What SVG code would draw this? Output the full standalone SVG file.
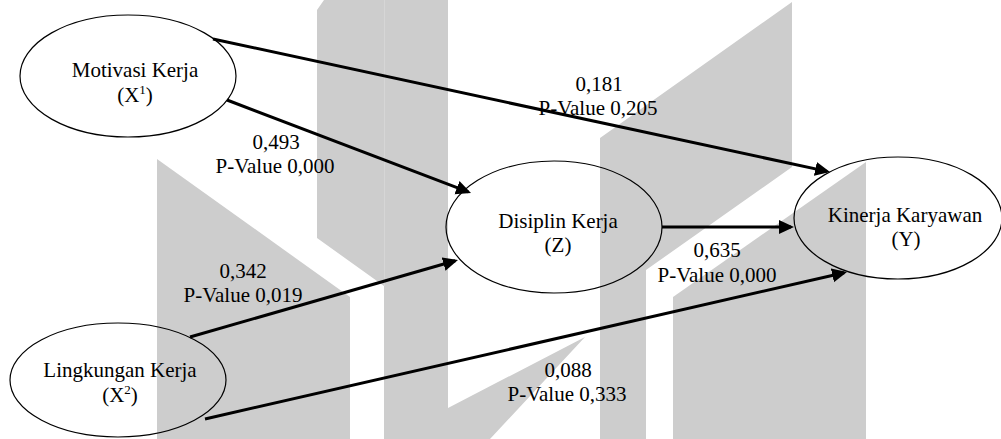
<svg xmlns="http://www.w3.org/2000/svg" width="1001" height="439" viewBox="0 0 1001 439">
<style>
.wm{fill:#cdcdcd;stroke:none}
.node ellipse{fill:none;stroke:#000;stroke-width:1.2}
.t{font-size:21px;fill:#000;text-anchor:middle}
.sup{font-size:13px}
.conn line{stroke:#000;stroke-width:3;fill:none}
</style>
<defs>
<marker id="ah" markerUnits="userSpaceOnUse" markerWidth="16" markerHeight="15" refX="12" refY="7" orient="auto">
<path d="M0,0 L15,7 L0,14 z" fill="#000"/>
</marker>
</defs>
<rect width="1001" height="439" fill="#fff"/>
<g id="watermark">
<polygon class="wm" points="157,159 350,297 350,439 157,439"/>
<polygon class="wm" points="317,10 324,0 448,0 448,408 585,337 490,439 384,439 384,286 317,238"/>
<line x1="384.5" y1="0" x2="384.5" y2="286" stroke="#d6d6d6" stroke-width="1"/>
<polygon class="wm" points="600,138 792,2 792,167 646,270 646,439 600,439"/>
<polygon class="wm" points="673,297 866,162 866,439 673,439"/>
</g>
<g id="connectors" class="conn">
<line x1="213" y1="39" x2="827.1" y2="171.4" marker-end="url(#ah)"/>
<line x1="227" y1="100" x2="468.2" y2="191.9" marker-end="url(#ah)"/>
<line x1="190" y1="337" x2="455.1" y2="260.8" marker-end="url(#ah)"/>
<line x1="205" y1="419" x2="844.1" y2="272.7" marker-end="url(#ah)"/>
<line x1="662" y1="227" x2="791" y2="227" marker-end="url(#ah)"/>
</g>
<g font-family="'Liberation Serif', 'DejaVu Serif', serif">
<g id="labels">
<text class="t" x="276" y="149">0,493</text>
<text class="t" x="275" y="173">P-Value 0,000</text>
<text class="t" x="599" y="91">0,181</text>
<text class="t" x="598" y="115">P-Value 0,205</text>
<text class="t" x="243" y="278">0,342</text>
<text class="t" x="243" y="302">P-Value 0,019</text>
<text class="t" x="717" y="257">0,635</text>
<text class="t" x="717" y="282">P-Value 0,000</text>
<text class="t" x="568" y="377">0,088</text>
<text class="t" x="567" y="401">P-Value 0,333</text>
</g>
<g id="node-x1" class="node">
<ellipse cx="128" cy="76" rx="108" ry="61"/>
<text class="t" x="135" y="77">Motivasi Kerja</text>
<text class="t" x="135" y="102">(X<tspan class="sup" dy="-8">1</tspan><tspan dy="8">)</tspan></text>
</g>
<g id="node-x2" class="node">
<ellipse cx="118" cy="380" rx="108" ry="57"/>
<text class="t" x="120" y="377">Lingkungan Kerja</text>
<text class="t" x="120" y="402">(X<tspan class="sup" dy="-8">2</tspan><tspan dy="8">)</tspan></text>
</g>
<g id="node-z" class="node">
<ellipse cx="554" cy="227" rx="108" ry="66"/>
<text class="t" x="558" y="228">Disiplin Kerja</text>
<text class="t" x="558" y="252">(Z)</text>
</g>
<g id="node-y" class="node">
<ellipse cx="898" cy="218" rx="104" ry="61"/>
<text class="t" x="905" y="222">Kinerja Karyawan</text>
<text class="t" x="906" y="246">(Y)</text>
</g>
</g>
</svg>
